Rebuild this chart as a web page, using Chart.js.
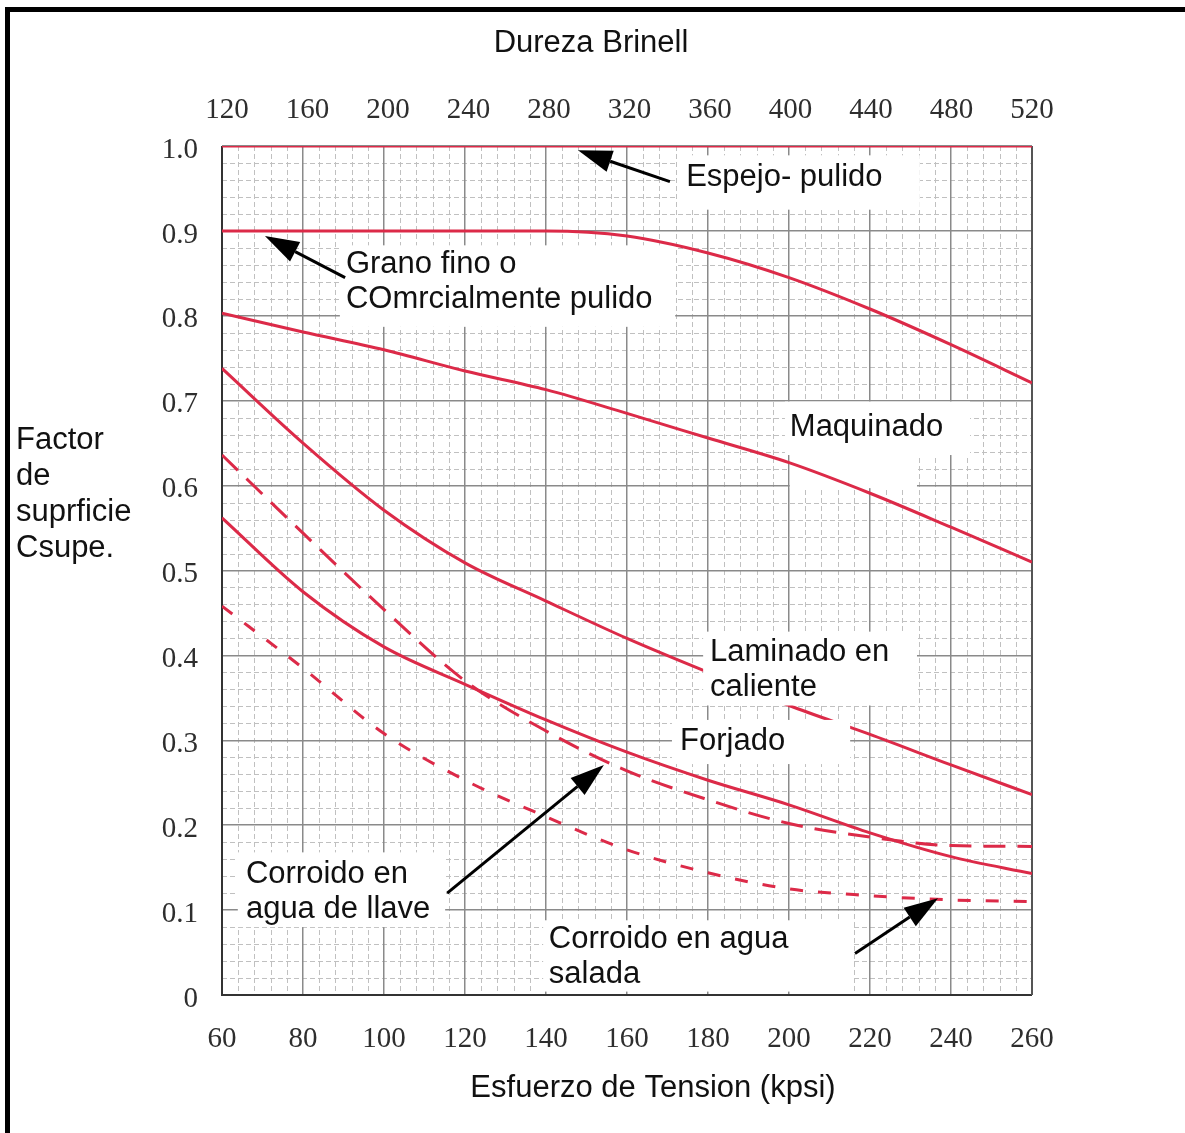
<!DOCTYPE html>
<html>
<head>
<meta charset="utf-8">
<title>Factor de superficie</title>
<script src="https://cdn.jsdelivr.net/npm/chart.js@4.4.1/dist/chart.umd.min.js"></script>
<style>
	body { margin: 0; background: #fff; }
	canvas { display: block; }
</style>
</head>
<body>
<canvas id="chart" width="1185" height="1133"></canvas>
<script>
// Esfuerzo de tension (kpsi) on the bottom axis, Brinell hardness on top
const tensionKpsi  = [60, 80, 100, 120, 140, 160, 180, 200, 220, 240, 260];
const brinellTicks = [120, 160, 200, 240, 280, 320, 360, 400, 440, 480, 520];
const factorTicks  = [0, 0.1, 0.2, 0.3, 0.4, 0.5, 0.6, 0.7, 0.8, 0.9, 1.0];

const espejoPulido = [1.0, 1.0, 1.0, 1.0, 1.0, 1.0, 1.0, 1.0, 1.0, 1.0, 1.0];
const granoFino    = [0.9, 0.9, 0.9, 0.9, 0.9, 0.894, 0.874, 0.845, 0.808, 0.766, 0.721];
const maquinado    = [0.803, 0.781, 0.760, 0.735, 0.713, 0.685, 0.656, 0.627, 0.591, 0.551, 0.510];
const laminado     = [0.738, 0.650, 0.571, 0.509, 0.464, 0.420, 0.380, 0.341, 0.307, 0.271, 0.236];
const forjado      = [0.562, 0.475, 0.410, 0.366, 0.324, 0.286, 0.253, 0.224, 0.191, 0.163, 0.143];
const aguaLlave    = [0.636, 0.544, 0.454, 0.370, 0.311, 0.264, 0.230, 0.202, 0.186, 0.176, 0.175];
const aguaSalada   = [0.458, 0.385, 0.308, 0.253, 0.210, 0.171, 0.144, 0.125, 0.117, 0.112, 0.110];

const clrCurve = '#dc2a48';
const clrMajor = '#8a8a8a';
const clrMinor = '#c0c0c0';
const labelFont = '31px "Liberation Sans", Arial, sans-serif';
const tickFont = { family: '"Liberation Serif", "Times New Roman", serif', size: 29 };

// white patches behind the curve labels, in axis units: [kpsi0, kpsi1, top, bottom]
const labelBoxes = [
	{ rect: [172.6, 232.3, 0.989, 0.925], cover: false },
	{ rect: [89.1, 171.9, 0.883, 0.787], cover: false },
	{ rect: [199.0, 244.7, 0.699, 0.636], cover: false },
	{ rect: [200.2, 231.6, 0.640, 0.597], cover: false },
	{ rect: [178.8, 231.6, 0.428, 0.341], cover: true },
	{ rect: [171.1, 215.1, 0.324, 0.272], cover: true },
	{ rect: [63.9, 115.1, 0.168, 0.080], cover: false },
	{ rect: [139.3, 215.6, 0.088, 0.004], cover: false }
];

const curveLabels = [
	{ lines: ['Espejo- pulido'], at: [174.6, 0.963] },
	{ lines: ['Grano fino o', 'COmrcialmente pulido'], at: [90.6, 0.860] },
	{ lines: ['Maquinado'], at: [200.2, 0.669] },
	{ lines: ['Laminado en', 'caliente'], at: [180.5, 0.404] },
	{ lines: ['Forjado'], at: [173.1, 0.299] },
	{ lines: ['Corroido en', 'agua de llave'], at: [65.9, 0.1425] },
	{ lines: ['Corroido en agua', 'salada'], at: [140.7, 0.065] }
];

const labelArrows = [
	{ from: [170.6, 0.958], to: [147.9, 0.995] },
	{ from: [90.4, 0.845], to: [70.6, 0.894] },
	{ from: [115.6, 0.120], to: [154.3, 0.271] },
	{ from: [216.3, 0.049], to: [236.8, 0.114] }
];

const yTitleLines = ['Factor', 'de', 'suprficie', 'Csupe.'];

function make_points(values)
{
	return tensionKpsi.map((x, i) => ({ x: x, y: values[i] }));
}

function make_curve(label, values, dash)
{
	return {
		label: label,
		data: make_points(values),
		borderColor: clrCurve,
		borderWidth: 3,
		borderDash: dash,
		cubicInterpolationMode: 'monotone',
		fill: false,
		pointRadius: 0
	};
}

function box_to_pixels(chart, rect)
{
	const sx = chart.scales.x, sy = chart.scales.y;
	const x0 = sx.getPixelForValue(rect[0]), x1 = sx.getPixelForValue(rect[1]);
	const y0 = sy.getPixelForValue(rect[2]), y1 = sy.getPixelForValue(rect[3]);
	return [x0, y0, x1 - x0, y1 - y0];
}

function draw_boxes(chart, cover)
{
	const ctx = chart.ctx;
	ctx.save();
	ctx.fillStyle = '#ffffff';
	for(const box of labelBoxes) {
		if(box.cover !== cover) continue;
		const r = box_to_pixels(chart, box.rect);
		ctx.fillRect(r[0], r[1], r[2], r[3]);
	}
	ctx.restore();
}

function draw_arrow(ctx, x0, y0, x1, y1)
{
	const angle = Math.atan2(y1 - y0, x1 - x0);
	const headLen = 34, headHalf = 11;
	const bx = x1 - Math.cos(angle) * headLen;
	const by = y1 - Math.sin(angle) * headLen;

	ctx.beginPath();
	ctx.moveTo(x0, y0);
	ctx.lineTo(bx, by);
	ctx.stroke();

	ctx.beginPath();
	ctx.moveTo(x1, y1);
	ctx.lineTo(bx + Math.sin(angle) * headHalf, by - Math.cos(angle) * headHalf);
	ctx.lineTo(bx - Math.sin(angle) * headHalf, by + Math.cos(angle) * headHalf);
	ctx.closePath();
	ctx.fill();
}

const paperPlugin = {
	id: 'paper',

	// dashed minor grid, every 4 kpsi and every 0.02
	beforeDraw(chart) {
		const ctx = chart.ctx, area = chart.chartArea;
		const sx = chart.scales.x, sy = chart.scales.y;
		ctx.save();
		ctx.strokeStyle = clrMinor;
		ctx.lineWidth = 1;
		ctx.setLineDash([5, 3]);
		for(let k = 60; k <= 260; k += 4) {
			if(k % 20 === 0) continue;
			const px = Math.round(sx.getPixelForValue(k)) + 0.5;
			ctx.beginPath();
			ctx.moveTo(px, area.top);
			ctx.lineTo(px, area.bottom);
			ctx.stroke();
		}
		for(let i = 1; i < 50; ++i) {
			if(i % 5 === 0) continue;
			const py = Math.round(sy.getPixelForValue(i * 0.02)) + 0.5;
			ctx.beginPath();
			ctx.moveTo(area.left, py);
			ctx.lineTo(area.right, py);
			ctx.stroke();
		}
		ctx.restore();
	},

	beforeDatasetsDraw(chart) {
		draw_boxes(chart, false);

		const ctx = chart.ctx, area = chart.chartArea;
		ctx.save();
		ctx.lineWidth = 2;
		ctx.strokeStyle = '#333333';
		ctx.beginPath();
		ctx.moveTo(area.left, area.top);
		ctx.lineTo(area.left, area.bottom);
		ctx.lineTo(area.right, area.bottom);
		ctx.stroke();
		ctx.strokeStyle = '#555555';
		ctx.beginPath();
		ctx.moveTo(area.right, area.top);
		ctx.lineTo(area.right, area.bottom);
		ctx.stroke();
		ctx.restore();
	},

	afterDatasetsDraw(chart) {
		draw_boxes(chart, true);

		const ctx = chart.ctx;
		const sx = chart.scales.x, sy = chart.scales.y;
		ctx.save();
		ctx.font = labelFont;
		ctx.fillStyle = '#111111';
		ctx.textAlign = 'left';
		ctx.textBaseline = 'middle';
		for(const item of curveLabels) {
			const px = sx.getPixelForValue(item.at[0]);
			const py = sy.getPixelForValue(item.at[1]);
			item.lines.forEach((line, i) => ctx.fillText(line, px, py + i * 35));
		}

		ctx.strokeStyle = '#000000';
		ctx.fillStyle = '#000000';
		ctx.lineWidth = 3;
		for(const arrow of labelArrows) {
			draw_arrow(ctx,
				sx.getPixelForValue(arrow.from[0]), sy.getPixelForValue(arrow.from[1]),
				sx.getPixelForValue(arrow.to[0]), sy.getPixelForValue(arrow.to[1]));
		}
		ctx.restore();
	},

	afterDraw(chart) {
		const ctx = chart.ctx;
		ctx.save();
		ctx.font = labelFont;
		ctx.fillStyle = '#111111';
		ctx.textBaseline = 'middle';
		ctx.textAlign = 'center';
		ctx.fillText('Dureza Brinell', 591, 43);
		ctx.fillText('Esfuerzo de Tension (kpsi)', 653, 1088);
		ctx.textAlign = 'left';
		yTitleLines.forEach((line, i) => ctx.fillText(line, 16, 440 + i * 36));

		// page frame, top and left edges
		ctx.fillStyle = '#000000';
		ctx.fillRect(5, 7, chart.width - 5, 5);
		ctx.fillRect(5, 7, 5, chart.height - 7);
		ctx.restore();
	}
};

const chart = new Chart('chart', {
	type: 'line',
	data: {
		datasets: [
			make_curve('Espejo pulido', espejoPulido, []),
			make_curve('Grano fino', granoFino, []),
			make_curve('Maquinado', maquinado, []),
			make_curve('Laminado en caliente', laminado, []),
			make_curve('Forjado', forjado, []),
			make_curve('Corroido en agua de llave', aguaLlave, [22, 12]),
			make_curve('Corroido en agua salada', aguaSalada, [13, 15])
		]
	},
	options: {
		responsive: false,
		devicePixelRatio: 1,
		animation: false,
		layout: { padding: { left: 0, top: 0, right: 153, bottom: 0 } },
		scales: {
			x: {
				type: 'linear',
				position: 'bottom',
				min: 60,
				max: 260,
				afterBuildTicks: (scale) => { scale.ticks = tensionKpsi.map(v => ({ value: v })); },
				afterFit: (scale) => { scale.height = 138; },
				grid: { color: clrMajor, lineWidth: 1.5, drawTicks: false },
				border: { display: false },
				ticks: { font: tickFont, color: '#2e2e2e', padding: 27, maxRotation: 0, autoSkip: false }
			},
			x2: {
				type: 'linear',
				position: 'top',
				min: 117.5,
				max: 520,
				afterBuildTicks: (scale) => { scale.ticks = brinellTicks.map(v => ({ value: v })); },
				afterFit: (scale) => { scale.height = 146; },
				grid: { display: false, drawTicks: false },
				border: { display: false },
				ticks: { font: tickFont, color: '#2e2e2e', padding: 18, maxRotation: 0, autoSkip: false }
			},
			y: {
				type: 'linear',
				min: 0,
				max: 1,
				afterBuildTicks: (scale) => { scale.ticks = factorTicks.map(v => ({ value: v })); },
				afterFit: (scale) => { scale.width = 222; },
				grid: { color: clrMajor, lineWidth: 1.5, drawTicks: false },
				border: { display: false },
				ticks: {
					font: tickFont,
					color: '#2e2e2e',
					padding: 24,
					labelOffset: 4,
					callback: (value) => value === 0 ? '0' : value.toFixed(1)
				}
			}
		},
		plugins: {
			legend: { display: false },
			tooltip: { enabled: false }
		},
		elements: {
			point: { radius: 0 }
		}
	},
	plugins: [paperPlugin]
});
</script>
</body>
</html>
